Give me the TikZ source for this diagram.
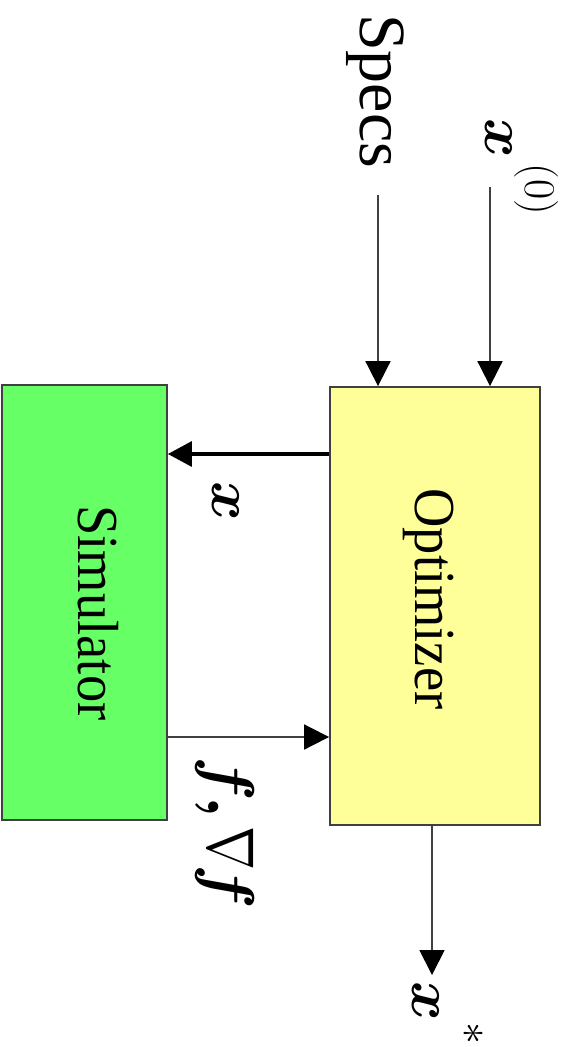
\RequirePackage{fix-cm}
\documentclass[tikz,border=0pt]{standalone}
\usepackage{fontspec}
\setmainfont{Liberation Serif}
\usetikzlibrary{arrows.meta}
\definecolor{simgreen}{HTML}{66FF66}
\definecolor{optyellow}{HTML}{FFFF99}
\definecolor{edge}{HTML}{404040}
\tikzset{
  blockbox/.style={draw=edge, line width=1.8pt, inner sep=0pt},
  thinarrow/.style={draw=black!75, line width=1.8pt, -{Triangle[length=25pt,width=25pt,color=black,fill=black]}},
  thickarrow/.style={draw=black, line width=3.2pt, -{Triangle[length=24pt,width=25pt]}},
  lbl/.style={inner sep=0pt, rotate=-90, anchor=center},
  mlbl/.style={inner sep=0pt, rotate=-90, anchor=base west},
}
\newcommand{\bm}[1]{{\boldmath$#1$}}
\begin{document}
\begin{tikzpicture}[x=1pt,y=-1pt]
\useasboundingbox (0,0) rectangle (568,1047);
% boxes
\node[blockbox, fill=simgreen, minimum width=165pt, minimum height=435pt] (sim) at (84.5,602.5) {};
\node[blockbox, fill=optyellow, minimum width=210pt, minimum height=438pt] (opt) at (435,606) {};
\node[lbl, font=\fontsize{58}{60}\selectfont] (simtxt) at (98,613) {\scalebox{0.94}[1]{Simulator}};
\node[lbl, font=\fontsize{58}{60}\selectfont] (opttxt) at (429,599) {\scalebox{0.94}[1]{Optimizer}};
% inputs
\node[lbl, font=\fontsize{66}{70}\selectfont] (specs) at (375,91) {Specs};
\node[mlbl] (x0) at (485,118) {\fontsize{60}{60}\selectfont\bm{x}\hspace{6pt}\raisebox{40pt}{\fontsize{44}{44}\selectfont$(0)$}};
\coordinate (s0) at (378,195);
\coordinate (x0s) at (490,187);
\draw[thinarrow] (s0) -- (s0 |- opt.north);
\draw[thinarrow] (x0s) -- (x0s |- opt.north);
% loop
\coordinate (xy) at (0,454);
\coordinate (fy) at (0,737);
\draw[thickarrow] (opt.west |- xy) -- (sim.east |- xy);
\draw[thinarrow] (sim.east |- fy) -- (opt.west |- fy);
\node[mlbl] (xlab) at (212,481) {\fontsize{60}{60}\selectfont\bm{x}};
\node[mlbl] (flab) at (208,756) {\fontsize{66}{66}\selectfont\bm{f,}\hspace{9pt}\scalebox{0.8}[1]{$\nabla$}\hspace{-6pt}\bm{f}};
% output
\coordinate (xout) at (432,975);
\draw[thinarrow] (opt.south -| xout) -- (xout);
\node[mlbl] (xstar) at (412,981) {\fontsize{60}{60}\selectfont\bm{x}\hspace{2pt}\raisebox{50pt}{\fontsize{44}{44}\selectfont$\ast$}};
\end{tikzpicture}
\end{document}
